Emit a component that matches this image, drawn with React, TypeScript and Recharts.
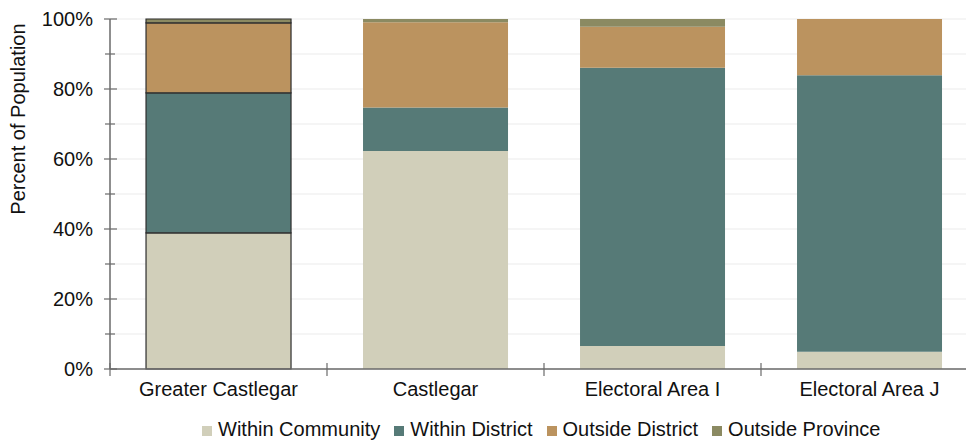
import { BarChart, Bar, XAxis, YAxis, CartesianGrid, Cell } from 'recharts';

// Share of population by place of work (percent)
const categories = ['Greater Castlegar', 'Castlegar', 'Electoral Area I', 'Electoral Area J'];
const withinCommunity = [38.9, 62.3, 6.6, 4.9];
const withinDistrict = [40.0, 12.4, 79.5, 79.0];
const outsideDistrict = [20.0, 24.4, 11.7, 16.1];
const outsideProvince = [1.1, 0.9, 2.2, 0.0];
const yTicks = [0, 10, 20, 30, 40, 50, 60, 70, 80, 90, 100];

const SERIES = [
  { key: 'withinCommunity', name: 'Within Community', color: '#d1cfba' },
  { key: 'withinDistrict', name: 'Within District', color: '#567a77' },
  { key: 'outsideDistrict', name: 'Outside District', color: '#bb935f' },
  { key: 'outsideProvince', name: 'Outside Province', color: '#8b8a62' },
];

const FONT = '"Liberation Sans", Arial, sans-serif';
const W = 990;
const H = 440;
const MARGIN = { top: 19, right: 12, bottom: 0, left: 0 };
const Y_AXIS_W = 110;
const X_AXIS_H = 71;
const AXIS_X = MARGIN.left + Y_AXIS_W;
const PLOT_BOTTOM = H - MARGIN.bottom - X_AXIS_H;
const BAND = (W - MARGIN.right - AXIS_X) / categories.length;
const AXIS_COLOR = '#6a6a6a';

const data = categories.map((name, i) => ({
  name,
  withinCommunity: withinCommunity[i],
  withinDistrict: withinDistrict[i],
  outsideDistrict: outsideDistrict[i],
  outsideProvince: outsideProvince[i],
}));

function YTick({ y, payload }: any) {
  const major = payload.value % 20 === 0;
  return (
    <g>
      <line
        x1={major ? AXIS_X - 6 : AXIS_X - 5}
        x2={major ? AXIS_X + 7 : AXIS_X + 5}
        y1={y}
        y2={y}
        stroke={AXIS_COLOR}
        strokeWidth={1.2}
      />
      {major && (
        <text x={AXIS_X - 17} y={y} dy="0.36em" textAnchor="end" fontSize={20} fill="#111" fontFamily={FONT}>
          {`${payload.value}%`}
        </text>
      )}
    </g>
  );
}

function XTick({ x, payload, index }: any) {
  const left = x - BAND / 2;
  return (
    <g>
      <line x1={left} x2={left} y1={PLOT_BOTTOM - 6} y2={PLOT_BOTTOM + 7} stroke={AXIS_COLOR} strokeWidth={1.2} />
      {index === categories.length - 1 && (
        <line x1={x + BAND / 2} x2={x + BAND / 2} y1={PLOT_BOTTOM - 6} y2={PLOT_BOTTOM + 7} stroke={AXIS_COLOR} strokeWidth={1.2} />
      )}
      <text x={x} y={PLOT_BOTTOM + 27} textAnchor="middle" fontSize={20} fill="#111" fontFamily={FONT}>
        {payload.value}
      </text>
    </g>
  );
}

export default function App() {
  return (
    <div style={{ position: 'absolute', left: 0, top: 0, width: 966, height: 440, overflow: 'hidden', background: '#fff' }}>
      <BarChart width={W} height={H} data={data} margin={MARGIN} barCategoryGap="16.6%">
        <CartesianGrid vertical={false} stroke="#ececec" strokeWidth={1.2} />
        <XAxis
          dataKey="name"
          height={X_AXIS_H}
          tick={<XTick />}
          tickLine={false}
          interval={0}
          axisLine={{ stroke: AXIS_COLOR, strokeWidth: 1.5 }}
        />
        <YAxis
          width={Y_AXIS_W}
          domain={[0, 100]}
          ticks={yTicks}
          interval={0}
          tick={<YTick />}
          tickLine={false}
          axisLine={{ stroke: AXIS_COLOR, strokeWidth: 1.5 }}
        />
        {SERIES.map((s) => (
          <Bar key={s.key} dataKey={s.key} name={s.name} stackId="a" fill={s.color} isAnimationActive={false}>
            {data.map((d, i) => (
              <Cell
                key={d.name}
                fill={s.color}
                stroke={i === 0 ? '#2e2e2e' : 'none'}
                strokeWidth={i === 0 ? 1.2 : 0}
              />
            ))}
          </Bar>
        ))}
        <text
          x={18}
          y={119}
          transform="rotate(-90 18 119)"
          textAnchor="middle"
          dominantBaseline="central"
          fontSize={20}
          fill="#111"
          fontFamily={FONT}
        >
          Percent of Population
        </text>
      </BarChart>
      <div
        style={{
          position: 'absolute',
          left: 202,
          top: 418,
          display: 'flex',
          alignItems: 'center',
          fontFamily: FONT,
          fontSize: 20,
          color: '#111',
          whiteSpace: 'nowrap',
        }}
      >
        {SERIES.map((s) => (
          <div key={s.key} style={{ display: 'flex', alignItems: 'center', marginRight: 14 }}>
            <span style={{ width: 10, height: 10, background: s.color, marginRight: 6, marginTop: 3 }} />
            <span>{s.name}</span>
          </div>
        ))}
      </div>
    </div>
  );
}
